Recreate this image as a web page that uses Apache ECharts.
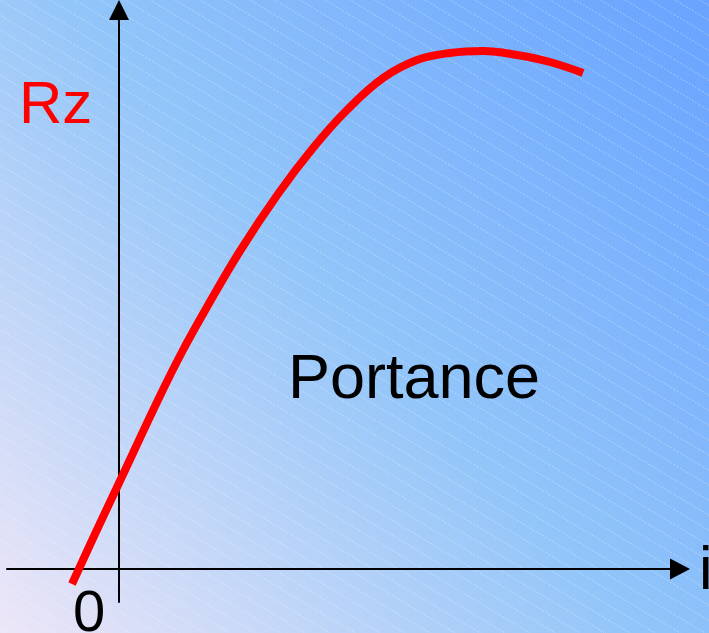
<!DOCTYPE html>
<html>
<head>
<meta charset="utf-8">
<script src="https://cdn.jsdelivr.net/npm/echarts@6/dist/echarts.min.js"></script>
<style>
html,body{margin:0;padding:0;background:#fff;}
#chart{width:709px;height:633px;}
</style>
</head>
<body>
<div id="chart"></div>
<script>
// Curve values (i on x, Rz on y)
var iValues  = [-0.47,-0.24,0,0.39,0.63,0.88,1.21,1.59,1.94,2.28,2.64,2.98,3.31,3.64,3.98,4.31,4.64];
var rzValues = [-0.15,0.35,0.86,1.69,2.17,2.62,3.18,3.75,4.21,4.59,4.91,5.09,5.16,5.18,5.14,5.07,4.96];
var xRange = [-1.12, 5.61];
var yRange = [-0.33, 5.59];
var yLabel = 'Rz';
var xLabel = 'i';
var originLabel = '0';
var curveLabel = 'Portance';

var points = iValues.map(function(v, k){ return [v, rzValues[k]]; });

// hatch pattern
var tile = document.createElement('canvas');
var tw = 25, th = 15;
tile.width = tw; tile.height = th;
var c = tile.getContext('2d');
c.strokeStyle = 'rgba(255,255,255,0.32)';
c.lineWidth = 1;
c.setLineDash([2,1.5]);
[[0,0],[tw,0],[0,th],[-tw,0],[0,-th]].forEach(function(o){
  c.beginPath();
  c.moveTo(o[0]-tw, o[1]-th);
  c.lineTo(o[0]+2*tw, o[1]+2*th);
  c.stroke();
});

var chart = echarts.init(document.getElementById('chart'), null, {renderer:'canvas'});
var font = '"Liberation Sans", Arial, sans-serif';
chart.setOption({
  animation: false,
  graphic: [
    {type:'rect', z:-10, silent:true, shape:{x:0,y:0,width:709,height:633},
     style:{fill:new echarts.graphic.LinearGradient(0,1,1,0,[
       {offset:0, color:'#ede6f7'},
       {offset:0.5, color:'#92c5f9'},
       {offset:1, color:'#68a3ff'}])}},
    {type:'rect', z:-9, silent:true, shape:{x:0,y:0,width:709,height:633},
     style:{fill:{image:tile, repeat:'repeat'}}},
    {type:'text', z:10, style:{text:yLabel, x:19, y:106, font:'60px '+font, fill:'#ff0000', verticalAlign:'middle'}},
    {type:'text', z:10, style:{text:curveLabel, x:288, y:381, font:'63px '+font, fill:'#000', verticalAlign:'middle'}},
    {type:'text', z:10, style:{text:originLabel, x:73, y:615, font:'58px '+font, fill:'#000', verticalAlign:'middle'}},
    {type:'text', z:10, style:{text:xLabel, x:699, y:572, font:'61px '+font, fill:'#000', verticalAlign:'middle'}}
  ],
  grid: {left:7, right:29, top:10, bottom:31},
  xAxis: {
    type:'value', min:xRange[0], max:xRange[1],
    axisLine:{show:true, onZero:true, symbol:['none','triangle'], symbolSize:[21,20], lineStyle:{color:'#000', width:2}},
    axisTick:{show:false}, axisLabel:{show:false}, splitLine:{show:false}
  },
  yAxis: {
    type:'value', min:yRange[0], max:yRange[1],
    axisLine:{show:true, onZero:true, symbol:['none','triangle'], symbolSize:[20,20], lineStyle:{color:'#000', width:2}},
    axisTick:{show:false}, axisLabel:{show:false}, splitLine:{show:false}
  },
  series: [{
    type:'line', data:points, smooth:0.4, showSymbol:false, symbol:'none',
    lineStyle:{color:'#ff0000', width:8, cap:'butt'}, z:5
  }]
});
</script>
</body>
</html>
